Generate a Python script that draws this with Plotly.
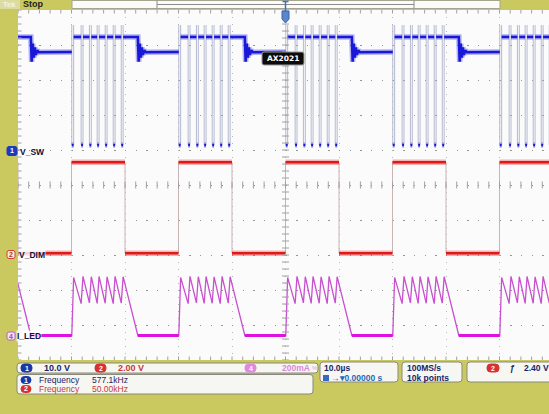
import numpy as np
import plotly.graph_objects as go

# ---------------- values ----------------
TIME_PER_DIV_US = 10.0
N_VDIV = 10

# V_DIM (channel 2): 50 kHz, 50 % duty
DIM_RISE_US = [-10, 10, 30, 50, 70, 90]
DIM_FALL_US = [0, 20, 40, 60, 80, 100]
DIM_LOW_V = 0.0
DIM_HIGH_V = 5.2

# V_SW (channel 1): switch-on instants after every DIM rising edge
SW_PULSE_OFFSET_US = [0.05, 1.8, 3.35, 4.8, 6.3, 7.8, 9.3]
SW_ON_US = 0.35
SW_HIGH_V = 32.3
SW_IDLE_V = 28.0
SW_LOW_V = 1.4
SW_SPIKE_V = 35.7
SW_RING_T_US = [0.0, 0.15, 0.35, 0.55, 0.75, 0.95, 1.2, 1.5]
SW_RING_V = [32.3, 25.2, 30.4, 26.4, 29.3, 27.2, 28.5, 27.9]

# I_LED (channel 4)
LED_PEAK_MA = [332, 338, 336, 337, 335, 338, 336]
LED_VALLEY_MA = [0, 182, 186, 183, 184, 182, 185]
LED_ZERO_OFFSET_US = 12.4

# channel settings (per division) and ground positions (divisions from centre)
CH1_SCALE, CH1_POS = 10.0, 1.0
CH2_SCALE, CH2_POS = 2.0, -1.95
CH4_SCALE, CH4_POS = 200.0, -4.3

CH_NAMES = ["V_SW", "V_DIM", "I_LED"]
READOUT_SCALES = ["10.0 V", "2.00 V", "200mA"]
MEAS_LABELS = ["Frequency", "Frequency"]
MEAS_VALUES = ["577.1kHz", "50.00kHz"]
TIMEBASE_TXT = ["10.0µs", "→▾0.00000 s"]
ACQ_TXT = ["100MS/s", "10k points"]
TRIG_TXT = "2.40 V"
NOTE_TXT = "AX2021"

# ---------------- geometry ----------------
W, H = 549, 414
ML, MR, MT, MB = 18, 0, 10, 54
PW = W - ML - MR
PH = H - MT - MB
PX_PER_DIV_X = 53.5
X_RANGE = [0, PW / PX_PER_DIV_X * TIME_PER_DIV_US]
Y_RANGE = [-N_VDIV / 2, N_VDIV / 2]
PERIOD = DIM_RISE_US[1] - DIM_RISE_US[0]


def px(x):
    return (x - ML) / PW


def py(y):
    return (H - MB - y) / PH


def scale(vals, sc, pos):
    return [None if v is None else v / sc + pos for v in vals]


# ---------------- build waveforms ----------------
# V_SW
sw_t, sw_v = [], []          # dense (thick) parts
swe_t, swe_v = [], []        # fast edges (thin)
for r in DIM_RISE_US:
    p = [r + o for o in SW_PULSE_OFFSET_US]
    for i in range(len(p) - 1):
        sw_t += [p[i] + SW_ON_US, p[i + 1], None]
        sw_v += [SW_HIGH_V, SW_HIGH_V, None]
    tz = r + LED_ZERO_OFFSET_US
    sw_t += [p[-1] + SW_ON_US] + [tz + d for d in SW_RING_T_US] + [r + PERIOD + SW_PULSE_OFFSET_US[0], None]
    sw_v += [SW_HIGH_V] + SW_RING_V + [SW_IDLE_V, None]
    for q in p:
        sw_t += [q, q + SW_ON_US, None]
        sw_v += [SW_LOW_V, SW_LOW_V, None]
        swe_t += [q, q, None, q + SW_ON_US, q + SW_ON_US, None]
        swe_v += [SW_SPIKE_V, SW_LOW_V, None, SW_LOW_V, SW_SPIKE_V, None]

# V_DIM
dim_t, dim_v, dime_t, dime_v = [], [], [], []
for r, f in zip(DIM_RISE_US, DIM_FALL_US):
    dim_t += [r, f, None]
    dim_v += [DIM_HIGH_V, DIM_HIGH_V, None]
for i, f in enumerate(DIM_FALL_US[:-1]):
    dim_t += [f, DIM_RISE_US[i + 1], None]
    dim_v += [DIM_LOW_V, DIM_LOW_V, None]
for e in DIM_RISE_US + DIM_FALL_US:
    dime_t += [e, e, None]
    dime_v += [DIM_LOW_V, DIM_HIGH_V, None]

# I_LED
led_t, led_v, ledz_t, ledz_v = [], [], [], []
for r in DIM_RISE_US:
    led_t.append(r)
    led_v.append(0)
    for o, pk, vl in zip(SW_PULSE_OFFSET_US, LED_PEAK_MA, LED_VALLEY_MA):
        led_t += [r + o, r + o + SW_ON_US]
        led_v += [vl, pk]
    led_t.append(r + LED_ZERO_OFFSET_US)
    led_v.append(0)
    ledz_t += [r + LED_ZERO_OFFSET_US, r + PERIOD + SW_PULSE_OFFSET_US[0], None]
    ledz_v += [0, 0, None]

fig = go.Figure()

BLUE = "#1818d8"
RED = "#e01818"
MAG = "#c850d0"
MAG2 = "#e010e0"

fig.add_trace(go.Scatter(x=dime_t, y=scale(dime_v, CH2_SCALE, CH2_POS), mode="lines",
                         line=dict(color="#c8b4b4", width=1), hoverinfo="skip"))
fig.add_trace(go.Scatter(x=dim_t, y=scale(dim_v, CH2_SCALE, CH2_POS), mode="lines",
                         line=dict(color="rgba(230,40,40,0.35)", width=5.5), hoverinfo="skip"))
fig.add_trace(go.Scatter(x=dim_t, y=scale(dim_v, CH2_SCALE, CH2_POS), mode="lines",
                         line=dict(color=RED, width=2.5), hoverinfo="skip"))

fig.add_trace(go.Scatter(x=led_t, y=scale(led_v, CH4_SCALE, CH4_POS), mode="lines",
                         line=dict(color=MAG, width=1.3), hoverinfo="skip"))
fig.add_trace(go.Scatter(x=ledz_t, y=scale(ledz_v, CH4_SCALE, CH4_POS), mode="lines",
                         line=dict(color=MAG2, width=3), hoverinfo="skip"))

fig.add_trace(go.Scatter(x=swe_t, y=scale(swe_v, CH1_SCALE, CH1_POS), mode="lines",
                         line=dict(color="#aeb2cc", width=0.9), hoverinfo="skip"))
fig.add_trace(go.Scatter(x=sw_t, y=scale(sw_v, CH1_SCALE, CH1_POS), mode="lines",
                         line=dict(color="rgba(40,40,230,0.35)", width=5.5), hoverinfo="skip"))
fig.add_trace(go.Scatter(x=sw_t, y=scale(sw_v, CH1_SCALE, CH1_POS), mode="lines",
                         line=dict(color=BLUE, width=2.5), hoverinfo="skip"))

# graticule tick marks on the centre lines and edges
minor_x = list(np.arange(0, 100.01, 2.0))
minor_y = list(np.arange(-5, 5.01, 0.2))
TICK = dict(color="#a0a0a0", width=1)
fig.add_trace(go.Scatter(x=minor_x * 3, y=[0] * len(minor_x) + [-5] * len(minor_x) + [5] * len(minor_x),
                         mode="markers", hoverinfo="skip",
                         marker=dict(symbol="line-ns", size=5, line=TICK)))
fig.add_trace(go.Scatter(x=[50] * len(minor_y) + [0] * len(minor_y), y=minor_y * 2,
                         mode="markers", hoverinfo="skip",
                         marker=dict(symbol="line-ew", size=5, line=TICK)))

shapes = []
ann = []

OLIVE = "#c9c95f"
BOXFILL = "#f6f6f2"
BOXLINE = "#8a8a7a"


def rrect(x0, y0, x1, y1, r=3, fill=BOXFILL, line=BOXLINE, lw=1):
    rx, ry = r / PW, r / PH
    a0, a1, b0, b1 = px(x0), px(x1), py(y1), py(y0)
    path = (f"M{a0+rx},{b0} L{a1-rx},{b0} Q{a1},{b0} {a1},{b0+ry} L{a1},{b1-ry} "
            f"Q{a1},{b1} {a1-rx},{b1} L{a0+rx},{b1} Q{a0},{b1} {a0},{b1-ry} "
            f"L{a0},{b0+ry} Q{a0},{b0} {a0+rx},{b0} Z")
    shapes.append(dict(type="path", xref="paper", yref="paper", path=path,
                       fillcolor=fill, line=dict(color=line, width=lw), layer="above"))


def text(x, y, s, color="#1a2060", size=9, bold=False, anchor="left", bg=None, family="Liberation Sans"):
    if bold:
        s = f"<b>{s}</b>"
    d = dict(xref="paper", yref="paper", x=px(x), y=py(y), text=s, showarrow=False,
             xanchor=anchor, yanchor="middle", font=dict(family=family, size=size, color=color),
             borderpad=0)
    if bg:
        d["bgcolor"] = bg
    ann.append(d)


def badge(x, y, s, fill, fg="white", border=None, w=12, h=8, r=3.5):
    rrect(x, y - h / 2, x + w, y + h / 2, r=r, fill=fill, line=border or fill)
    ann.append(dict(xref="paper", yref="paper", x=px(x + w / 2), y=py(y), text=f"<b>{s}</b>",
                    showarrow=False, xanchor="center", yanchor="middle",
                    font=dict(family="Liberation Sans", size=7, color=fg)))


# --- top bar
shapes.append(dict(type="rect", xref="paper", yref="paper", x0=px(0), x1=px(20), y0=py(9), y1=py(0),
                   fillcolor="#dcdca0", line=dict(width=0), layer="above"))
text(2, 4.5, "Tek", color="#f4f4e4", size=7.5, bold=True)
text(22, 4.5, "Stop", color="#202020", size=9, bold=True)
shapes.append(dict(type="rect", xref="paper", yref="paper", x0=px(72), x1=px(500), y0=py(8.5), y1=py(0.5),
                   fillcolor="#fbfbf7", line=dict(color="#a4a490", width=1), layer="above"))
shapes.append(dict(type="line", xref="paper", yref="paper", x0=px(157), x1=px(414), y0=py(4.5), y1=py(4.5),
                   line=dict(color="#8c8c8c", width=1), layer="above"))
for xx in (157, 414):
    shapes.append(dict(type="line", xref="paper", yref="paper", x0=px(xx), x1=px(xx), y0=py(0.5), y1=py(8.5),
                       line=dict(color="#8c8c8c", width=1), layer="above"))
# trigger position marker
shapes.append(dict(type="line", xref="paper", yref="paper", x0=px(285.5), x1=px(285.5), y0=py(1), y1=py(12),
                   line=dict(color="#4070c0", width=1.5), layer="above"))
shapes.append(dict(type="line", xref="paper", yref="paper", x0=px(282.5), x1=px(288.5), y0=py(1.5), y1=py(1.5),
                   line=dict(color="#4070c0", width=1.5), layer="above"))
shapes.append(dict(type="path", xref="paper", yref="paper",
                   path=f"M{px(282)},{py(11)} L{px(289)},{py(11)} L{px(289)},{py(19)} L{px(285.5)},{py(23)} L{px(282)},{py(19)} Z",
                   fillcolor="#5a86cc", line=dict(color="#3a64b0", width=1), layer="above"))

# --- channel markers and names
badge(7, 151, "1", "#2038c0", w=10, h=9, r=2)
badge(7, 254.5, "2", "#f4ecd8", fg="#c03020", border="#d04030", w=8, h=8, r=2)
badge(7, 336, "4", "#f4e4f4", fg="#b040b0", border="#c060c0", w=8, h=8, r=2)
text(19, 151.5, CH_NAMES[0], color="#101040", size=8.5, bold=True)
text(18, 254.5, CH_NAMES[1], color="#101040", size=8.5, bold=True, bg="rgba(255,255,255,0.8)")
text(16, 336, CH_NAMES[2], color="#101040", size=8.5, bold=True, bg="rgba(255,255,255,0.8)")

# AX2021 note
rrect(262, 52, 304, 65, r=2, fill="#0c0c0c", line="#9a9a9a")
text(283, 58.5, NOTE_TXT, color="white", size=7.5, bold=True, anchor="center", family="DejaVu Sans")

# --- readout panel
rrect(17, 363, 318, 373)
badge(21, 368, "1", "#1838a8", w=11, h=8)
text(43, 368, READOUT_SCALES[0], color="#1a2468", bold=True)
badge(95, 368, "2", "#d83030", w=11, h=8)
text(117, 368, READOUT_SCALES[1], color="#c83838", bold=True)
badge(245, 368, "4", "#e088e0", w=11, h=8)
text(281, 368, READOUT_SCALES[2], color="#d888d8", bold=True, size=8.5)
text(311, 368, "%", color="#d8a0d8", size=6)

rrect(17, 374.5, 313, 394)
badge(21, 380, "1", "#1838a8", w=10, h=7)
text(38, 380, MEAS_LABELS[0], color="#1a2468", size=8.5)
text(91, 380, MEAS_VALUES[0], color="#1a2468", size=8.5)
badge(21, 389, "2", "#d83030", w=10, h=7)
text(38, 389, MEAS_LABELS[1], color="#c83838", size=8.5)
text(91, 389, MEAS_VALUES[1], color="#c83838", size=8.5)

rrect(320, 362, 398, 382)
text(323, 367.5, TIMEBASE_TXT[0], color="#1a2468", bold=True, size=8.5)
shapes.append(dict(type="rect", xref="paper", yref="paper", x0=px(323), x1=px(329), y0=py(381), y1=py(375),
                   fillcolor="#3868c0", line=dict(width=0), layer="above"))
text(330, 378, TIMEBASE_TXT[1], color="#2868b8", size=8.5, bold=True)

rrect(402, 362, 462, 382)
text(406, 367.5, ACQ_TXT[0], color="#1a2468", bold=True, size=8.5)
text(406, 377.5, ACQ_TXT[1], color="#1a2468", bold=True, size=8.5)

rrect(467, 362, 560, 382)
badge(487, 368, "2", "#d83030", w=12, h=8)
text(509, 368, "ƒ", color="#1a2468", size=8.5, bold=True)
text(523, 368, TRIG_TXT, color="#1a2468", bold=True, size=8.5)

fig.update_layout(
    width=W, height=H, autosize=False,
    margin=dict(l=ML, r=MR, t=MT, b=MB, pad=0),
    paper_bgcolor=OLIVE, plot_bgcolor="#fbfbfb",
    showlegend=False,
    shapes=shapes, annotations=ann,
    xaxis=dict(range=X_RANGE, tick0=0, dtick=TIME_PER_DIV_US, showgrid=True,
               gridcolor="#b8b8b8", gridwidth=1, griddash="1px,6px",
               showticklabels=False, ticks="", zeroline=False, showline=False, fixedrange=True),
    yaxis=dict(range=Y_RANGE, tick0=0, dtick=1, showgrid=True,
               gridcolor="#959595", gridwidth=1.3, griddash="1.3px,9.4px",
               showticklabels=False, ticks="", zeroline=False, showline=False, fixedrange=True),
)

fig.write_html("out.html", config={"displayModeBar": False},
               post_script="document.body.style.margin='0';document.body.style.background='%s';" % OLIVE)
